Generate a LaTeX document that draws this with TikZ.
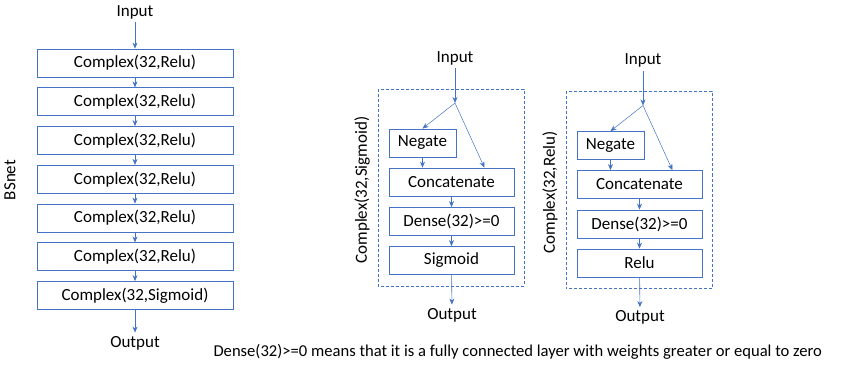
\documentclass[tikz,border=0pt]{standalone}
\usepackage{fontspec}
\setmainfont{Carlito}
\usetikzlibrary{arrows.meta,calc}
\definecolor{boxblue}{RGB}{68,114,196}

\begin{document}
\begin{tikzpicture}[x=1pt,y=-1pt,font=\fontsize{17}{20}\selectfont]
\tikzset{layer/.style={draw=boxblue,line width=.8pt,minimum height=28pt,inner sep=0pt},
	flow/.style={draw=boxblue,line width=.6pt,-{Stealth[length=6pt,width=5pt]}},
	frame/.style={draw=boxblue,dash pattern=on 3pt off 2pt,line width=.8pt}}
\useasboundingbox (0,0) rectangle (848,366);

% BSnet stack
\node (in0) at (135,12) {Input};
\foreach \i/\act in {1/Relu,2/Relu,3/Relu,4/Relu,5/Relu,6/Relu,7/Sigmoid}{%
	\node[layer,minimum width=196pt] (c\i) at (135,{63+38.75*(\i-1)}) {Complex(32,\act)};
}%
\node (out0) at (135,343) {Output};
\node[rotate=90] (bs) at (10,180) {BSnet};
\draw[flow] (in0) -- (c1);
\foreach \i/\j in {1/2,2/3,3/4,4/5,5/6,6/7}{%
	\draw[flow] (c\i) -- (c\j);
}%
\draw[flow] (c7) -- (out0);

% complex blocks
\foreach \n/\dx/\dy/\act in {a/0/0/Sigmoid,b/188/2.5/Relu}{%
\begin{scope}[shift={(\dx,\dy)}]
	\draw[frame] (378,89) rectangle (524,286);
	\node (in\n) at (455,58) {Input};
	\coordinate (br\n) at (455,103);
	\node[layer,minimum width=67pt] (neg\n) at (422.5,143) {Negate};
	\node[layer,minimum width=125pt] (cat\n) at (451.5,182) {Concatenate};
	\node[layer,minimum width=125pt] (dense\n) at (451.5,221.5) {Dense(32)>=0};
	\node[layer,minimum width=125pt] (act\n) at (451.5,260.5) {\act};
	\node (out\n) at (452,315) {Output};
	\node[rotate=90] (lab\n) at (362,190) {Complex(32,\act)};
	\draw[flow] (in\n) -- (br\n);
	\draw[flow,line width=.5pt] (br\n) -- (neg\n.north);
	\draw[flow,line width=.5pt] (br\n) -- ($(cat\n.north east)+(-30,0)$);
	\draw[flow] (neg\n.south) -- (neg\n.south |- cat\n.north);
	\draw[flow] (cat\n) -- (dense\n);
	\draw[flow] (dense\n) -- (act\n);
	\draw[flow] (act\n) -- (out\n);
\end{scope}
}%

\node[anchor=west,font=\fontsize{16.6}{19}\selectfont] (note) at (210,352) {Dense(32)>=0 means that it is a fully connected layer with weights greater or equal to zero};
\end{tikzpicture}
\end{document}
